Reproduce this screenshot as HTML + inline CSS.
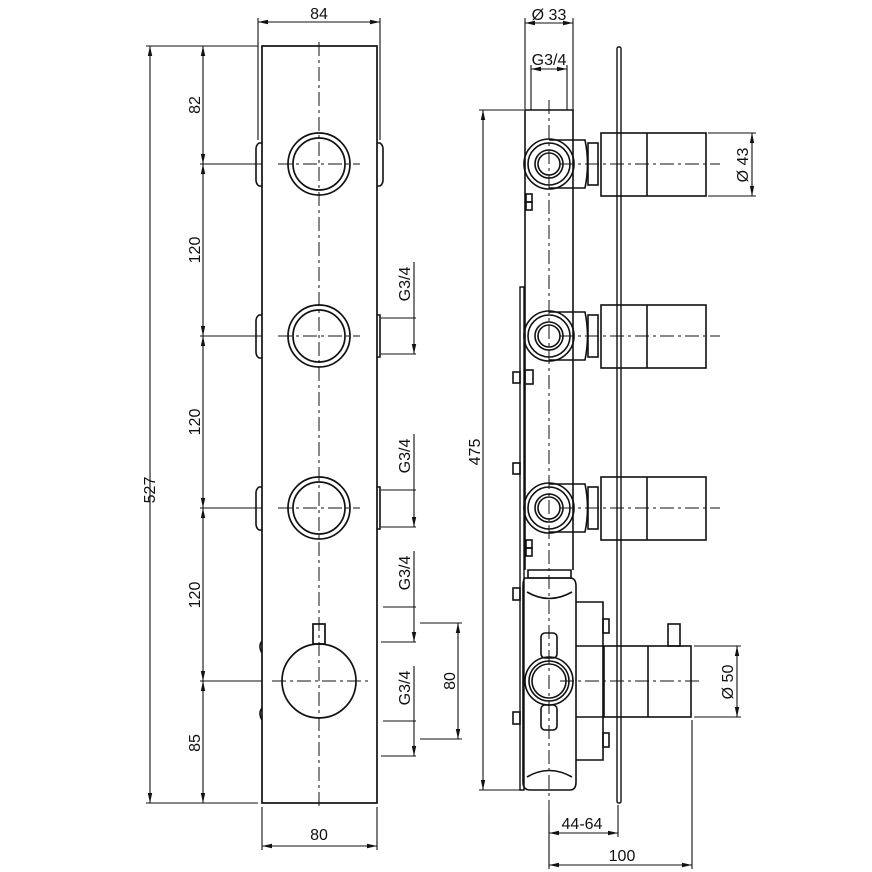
<!DOCTYPE html>
<html><head><meta charset="utf-8"><style>html,body{margin:0;padding:0;background:#fff}svg{display:block}text{font-family:"Liberation Sans",sans-serif;font-size:16px;fill:#111}</style></head><body>
<svg width="872" height="872" viewBox="0 0 872 872" xmlns="http://www.w3.org/2000/svg">
<defs>
<marker id="a" markerWidth="10" markerHeight="6" refX="10" refY="3" orient="auto-start-reverse" markerUnits="userSpaceOnUse"><path d="M0,0.8 L10,3 L0,5.2 z" fill="#111"/></marker>
</defs>
<rect width="872" height="872" fill="#fff"/>
<g fill="none" stroke="#111" stroke-width="1.1">
<!-- LEFT VIEW -->
<rect x="262" y="46" width="115" height="757" stroke-width="1.7"/>
<line x1="319" y1="42" x2="319" y2="808" stroke-dasharray="14,4,3,4" stroke-width="1"/>
<g stroke-width="1.7">
<circle cx="319" cy="164" r="31"/><circle cx="319" cy="164" r="26"/>
<circle cx="319" cy="336" r="31"/><circle cx="319" cy="336" r="26"/>
<circle cx="319" cy="508" r="31"/><circle cx="319" cy="508" r="26"/>
<circle cx="319" cy="681" r="37"/>
<rect x="313" y="624" width="12" height="20"/>
</g>
<g stroke-width="1.6">
<path d="M262,143 h-3 q-3,2 -3,6 v31 q0,4 3,6 h3"/><path d="M377,143 h3 q3,2 3,6 v31 q0,4 -3,6 h-3"/>
<path d="M262,315 h-3 q-3,2 -3,6 v31 q0,4 3,6 h3"/><path d="M377,315 h3 v42 h-3"/>
<path d="M262,487 h-3 q-3,2 -3,6 v31 q0,4 3,6 h3"/><path d="M377,487 h3 v42 h-3"/>
<path d="M262,641 q-4,5 0,12"/><path d="M262,708 q-4,5 0,12"/>
</g>
<g stroke-dasharray="14,4,3,4" stroke-width="1">
<line x1="278" y1="164" x2="360" y2="164"/><line x1="278" y1="336" x2="360" y2="336"/>
<line x1="278" y1="508" x2="360" y2="508"/><line x1="272" y1="681" x2="368" y2="681"/>
</g>
<!-- dims left -->
<line x1="258" y1="22" x2="380" y2="22" marker-start="url(#a)" marker-end="url(#a)"/>
<line x1="258" y1="18" x2="258" y2="140"/><line x1="380" y1="18" x2="380" y2="140"/>
<line x1="146" y1="46" x2="258" y2="46"/><line x1="146" y1="803" x2="258" y2="803"/>
<line x1="150" y1="46" x2="150" y2="803" marker-start="url(#a)" marker-end="url(#a)"/>
<line x1="203" y1="46" x2="203" y2="164" marker-start="url(#a)" marker-end="url(#a)"/>
<line x1="203" y1="164" x2="203" y2="336" marker-start="url(#a)" marker-end="url(#a)"/>
<line x1="203" y1="336" x2="203" y2="508" marker-start="url(#a)" marker-end="url(#a)"/>
<line x1="203" y1="508" x2="203" y2="681" marker-start="url(#a)" marker-end="url(#a)"/>
<line x1="203" y1="681" x2="203" y2="803" marker-start="url(#a)" marker-end="url(#a)"/>
<line x1="200" y1="164" x2="262" y2="164"/><line x1="200" y1="336" x2="262" y2="336"/>
<line x1="200" y1="508" x2="262" y2="508"/><line x1="200" y1="681" x2="262" y2="681"/>
<line x1="262" y1="807" x2="262" y2="850"/><line x1="377" y1="807" x2="377" y2="850"/>
<line x1="262" y1="846" x2="377" y2="846" marker-start="url(#a)" marker-end="url(#a)"/>
<!-- G3/4 dims -->
<line x1="381" y1="318" x2="416" y2="318"/><line x1="381" y1="354" x2="416" y2="354"/>
<line x1="414" y1="262" x2="414" y2="318"/><line x1="414" y1="318" x2="414" y2="354" marker-end="url(#a)"/>
<line x1="381" y1="490" x2="416" y2="490"/><line x1="381" y1="527" x2="416" y2="527"/>
<line x1="414" y1="434" x2="414" y2="490"/><line x1="414" y1="490" x2="414" y2="527" marker-end="url(#a)"/>
<line x1="383" y1="607" x2="416" y2="607"/><line x1="381" y1="642" x2="416" y2="642"/>
<line x1="414" y1="551" x2="414" y2="607"/><line x1="414" y1="607" x2="414" y2="642" marker-end="url(#a)"/>
<line x1="383" y1="721" x2="416" y2="721"/><line x1="381" y1="756" x2="416" y2="756"/>
<line x1="414" y1="666" x2="414" y2="721"/><line x1="414" y1="721" x2="414" y2="756" marker-end="url(#a)"/>
<line x1="420" y1="623" x2="462" y2="623"/><line x1="420" y1="739" x2="462" y2="739"/>
<line x1="458" y1="623" x2="458" y2="739" marker-start="url(#a)" marker-end="url(#a)"/>

<!-- RIGHT VIEW -->
<line x1="549" y1="100" x2="549" y2="812" stroke-dasharray="14,4,3,4" stroke-width="1"/>
<path d="M525,110 H573 V570 M525,110 V570" stroke-width="1.6"/>
<rect x="617" y="47" width="4" height="756" rx="1.5" stroke-width="1.4"/>
<path d="M524,790 V287 h-4 V790 z" stroke-width="1.4"/>
<g stroke-width="1.6">
<g id="u">
<circle cx="549" cy="164" r="25"/><circle cx="549" cy="164" r="21"/><circle cx="549" cy="164" r="14"/><circle cx="549" cy="164" r="11"/>
<path d="M549,140 H585 Q590,164 585,188 H549"/>
<rect x="588" y="143" width="10" height="42"/>
<rect x="601" y="133" width="105" height="63"/>
<line x1="647" y1="133" x2="647" y2="196"/>
<line x1="560" y1="164" x2="720" y2="164" stroke-dasharray="14,4,3,4" stroke-width="1"/>
</g>
<use href="#u" y="172"/><use href="#u" y="344"/>
<rect x="526" y="194" width="6" height="8"/><rect x="526" y="202" width="6" height="8"/>
<rect x="513" y="372" width="7" height="11"/><rect x="525" y="370" width="8" height="14"/>
<rect x="513" y="463" width="7" height="11"/>
<rect x="526" y="540" width="6" height="8"/><rect x="526" y="548" width="6" height="8"/>
<!-- lower valve -->
<path d="M528,570 H571 V578 H528 z"/>
<path d="M525,578 Q523,580 523,586 V782 Q523,790 530,790 H570 Q576,790 576,782 V586 Q576,578 570,578 z"/>
<path d="M527,592 Q549,605 572,592 M527,777 Q549,764 572,777"/>
<path d="M576,602 H603 V760 H576"/>
<rect x="603" y="619" width="6" height="14"/><rect x="603" y="733" width="6" height="14"/>
<circle cx="549" cy="681" r="24"/><circle cx="549" cy="681" r="20"/><circle cx="549" cy="681" r="17"/>
<rect x="541" y="633" width="16" height="25" rx="4"/><rect x="541" y="705" width="16" height="25" rx="4"/>
<line x1="576" y1="646" x2="604" y2="646"/><line x1="576" y1="717" x2="604" y2="717"/>
<rect x="513" y="588" width="7" height="12"/><rect x="513" y="712" width="7" height="12"/>
<rect x="604" y="646" width="87" height="71"/>
<line x1="648" y1="646" x2="648" y2="717"/>
<rect x="668" y="624" width="12" height="22"/>
<line x1="560" y1="681" x2="700" y2="681" stroke-dasharray="14,4,3,4" stroke-width="1"/>
</g>
<!-- right dims -->
<line x1="525" y1="18" x2="525" y2="110"/><line x1="573" y1="18" x2="573" y2="110"/>
<line x1="525" y1="23" x2="573" y2="23" marker-start="url(#a)" marker-end="url(#a)"/>
<line x1="531" y1="65" x2="531" y2="110"/><line x1="567" y1="65" x2="567" y2="110"/>
<line x1="531" y1="69" x2="567" y2="69" marker-start="url(#a)" marker-end="url(#a)"/>
<line x1="479" y1="110" x2="524" y2="110"/><line x1="479" y1="790" x2="520" y2="790"/>
<line x1="483" y1="110" x2="483" y2="790" marker-start="url(#a)" marker-end="url(#a)"/>
<line x1="708" y1="133" x2="756" y2="133"/><line x1="708" y1="196" x2="756" y2="196"/>
<line x1="752" y1="133" x2="752" y2="196" marker-start="url(#a)" marker-end="url(#a)"/>
<line x1="694" y1="646" x2="741" y2="646"/><line x1="694" y1="717" x2="741" y2="717"/>
<line x1="737" y1="646" x2="737" y2="717" marker-start="url(#a)" marker-end="url(#a)"/>
<line x1="549" y1="812" x2="549" y2="869"/><line x1="618" y1="805" x2="618" y2="837"/><line x1="692" y1="720" x2="692" y2="869"/>
<line x1="549" y1="833" x2="618" y2="833" marker-start="url(#a)" marker-end="url(#a)"/>
<line x1="549" y1="865" x2="692" y2="865" marker-start="url(#a)" marker-end="url(#a)"/>
</g>
<!-- text -->
<text x="319" y="19" text-anchor="middle">84</text>
<text x="319" y="840" text-anchor="middle">80</text>
<text transform="translate(155,490) rotate(-90)" text-anchor="middle">527</text>
<text transform="translate(200,105) rotate(-90)" text-anchor="middle">82</text>
<text transform="translate(200,250) rotate(-90)" text-anchor="middle">120</text>
<text transform="translate(200,422) rotate(-90)" text-anchor="middle">120</text>
<text transform="translate(200,595) rotate(-90)" text-anchor="middle">120</text>
<text transform="translate(200,743) rotate(-90)" text-anchor="middle">85</text>
<text transform="translate(410,284) rotate(-90)" text-anchor="middle">G3/4</text>
<text transform="translate(410,456) rotate(-90)" text-anchor="middle">G3/4</text>
<text transform="translate(410,573) rotate(-90)" text-anchor="middle">G3/4</text>
<text transform="translate(410,688) rotate(-90)" text-anchor="middle">G3/4</text>
<text transform="translate(455,681) rotate(-90)" text-anchor="middle">80</text>
<text x="549" y="20" text-anchor="middle">Ø 33</text>
<text x="549" y="65" text-anchor="middle">G3/4</text>
<text transform="translate(480,452) rotate(-90)" text-anchor="middle">475</text>
<text transform="translate(748,165) rotate(-90)" text-anchor="middle">Ø 43</text>
<text transform="translate(733,682) rotate(-90)" text-anchor="middle">Ø 50</text>
<text x="582" y="829" text-anchor="middle">44-64</text>
<text x="622" y="861" text-anchor="middle">100</text>
</svg>
</body></html>
